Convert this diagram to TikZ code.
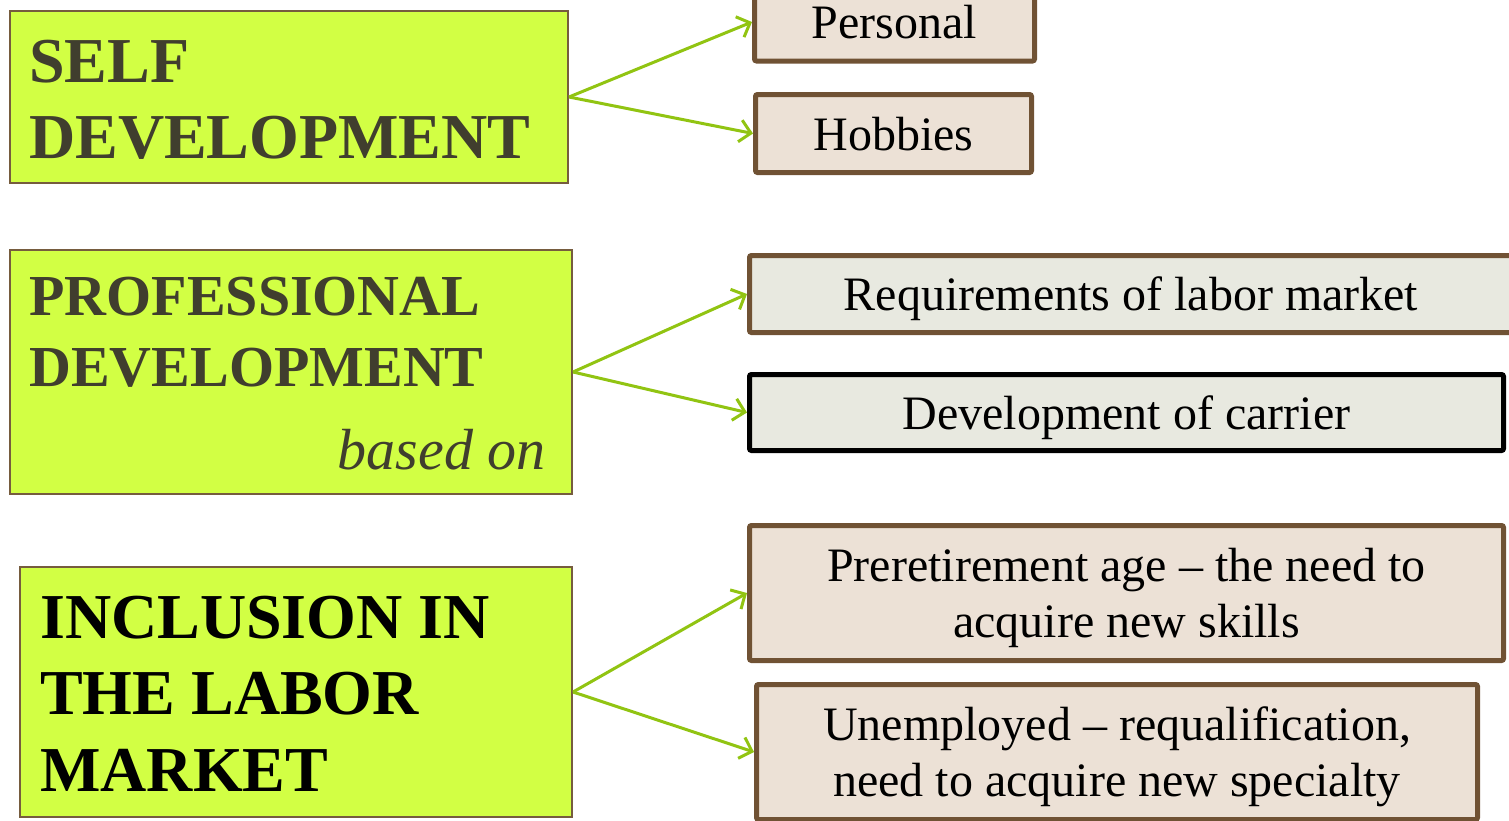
\documentclass[tikz,border=0pt]{standalone}
\usepackage{fontspec}
\setmainfont{Liberation Serif}
\usetikzlibrary{arrows.meta}
\definecolor{gfill}{RGB}{210,255,68}
\definecolor{gline}{RGB}{118,92,62}
\definecolor{brownline}{RGB}{112,82,52}
\definecolor{beige}{RGB}{236,225,214}
\definecolor{grayfill}{RGB}{232,233,224}
\definecolor{arrgreen}{RGB}{145,196,18}
\definecolor{olive}{RGB}{64,62,46}
\tikzset{
  gbox/.style={draw=gline, fill=gfill, line width=2pt, inner sep=0pt},
  rbox/.style={draw=brownline, fill=beige, line width=5pt, rounded corners=2pt,
    inner sep=0pt, align=center, text depth=0pt,
    font=\fontsize{48}{56}\selectfont},
  qbox/.style={rbox, fill=grayfill},
  kbox/.style={rbox, fill=grayfill, draw=black},
  ltxt/.style={anchor=base west, inner sep=0pt},
  arr/.style={draw=arrgreen, line width=3pt,
    -{Straight Barb[length=11pt, width=22pt, line width=3pt]}},
}
\begin{document}
\begin{tikzpicture}[x=1pt, y=-1pt]
\useasboundingbox (0,0) rectangle (1509,820);
% left boxes
\node[gbox, minimum width=558pt, minimum height=172pt] (sd) at (289,97) {};
\node[gbox, minimum width=562pt, minimum height=244pt] (pd) at (291,372) {};
\node[gbox, minimum width=552pt, minimum height=250pt] (il) at (296,692) {};
% left texts
\begin{scope}[every node/.append style={font=\fontsize{64}{76}\bfseries\selectfont, text=olive}]
\node[ltxt] (sd1) at (29,82) {SELF};
\node[ltxt] (sd2) at (29,158) {DEVELOPMENT};
\end{scope}
\begin{scope}[every node/.append style={font=\fontsize{58}{71}\bfseries\selectfont, text=olive}]
\node[ltxt] (pd1) at (29,315) {PROFESSIONAL};
\node[ltxt] (pd2) at (29,386) {DEVELOPMENT};
\end{scope}
\node[anchor=base east, inner sep=0pt, text=olive,
  font=\fontsize{58}{70}\itshape\selectfont] (pd3) at (546,469) {based on};
\begin{scope}[every node/.append style={font=\fontsize{64}{76}\bfseries\selectfont, text=black}]
\node[ltxt] (il1) at (40,638) {INCLUSION IN};
\node[ltxt] (il2) at (40,714) {THE LABOR};
\node[ltxt] (il3) at (40,791) {MARKET};
\end{scope}
% right boxes
\node[rbox, minimum width=280pt, minimum height=78pt] (pers) at (894.5,22) {Personal};
\node[rbox, minimum width=276pt, minimum height=78pt] (hob) at (893.5,133.5) {Hobbies};
\node[qbox, minimum width=763pt, minimum height=77pt] (req) at (1131,294) {Requirements of labor market};
\node[kbox, minimum width=754pt, minimum height=76pt] (car) at (1126.5,412.5) {Development of carrier};
\node[rbox, minimum width=754pt, minimum height=135pt] (pre) at (1126.5,593) {Preretirement age -- the need to\\acquire new skills};
\node[rbox, minimum width=721pt, minimum height=135pt] (une) at (1117,752) {Unemployed -- requalification,\\need to acquire new specialty};
% arrows
\draw[arr] (sd.east) -- (pers.west);
\draw[arr] (sd.east) -- (hob.west);
\draw[arr] (pd.east) -- (req.west);
\draw[arr] (pd.east) -- (car.west);
\draw[arr] (il.east) -- (pre.west);
\draw[arr] (il.east) -- (une.west);
\end{tikzpicture}
\end{document}
